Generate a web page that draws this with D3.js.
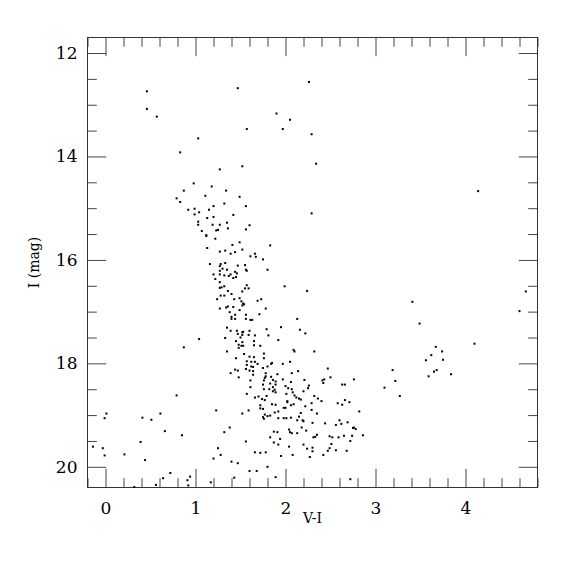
<!DOCTYPE html>
<html>
<head>
<meta charset="utf-8">
<script src="https://cdn.jsdelivr.net/npm/d3@7"></script>
<style>
  body { margin: 0; background: #fff; }
</style>
</head>
<body>
<div id="chart"></div>
<script>
// Colour-magnitude diagram: [V-I, I] per star
const stars = [
  [0.46,12.74],[0.46,13.08],[0.57,13.23],[1.03,13.65],[0.83,13.92],[0.98,14.52],[0.87,14.66],[0.79,14.81],
  [0.83,14.88],[0.92,15.03],[0.99,15.01],[0.99,15.12],[1.04,15.08],
  [2.26,12.56],[1.47,12.68],[1.90,13.17],[2.05,13.29],[1.57,13.47],[1.97,13.47],[2.29,13.57],[2.34,14.14],
  [1.27,14.25],[1.52,14.19],[1.18,14.58],[1.34,14.66],[1.11,14.76],[1.49,14.78],[1.32,14.91],[1.56,14.96],
  [1.20,14.96],[1.15,15.03],[1.13,15.19],[1.20,15.17],[1.42,15.13],[2.29,15.10],
  [1.03,15.26],[1.03,15.32],[1.19,15.32],[1.27,15.32],[1.35,15.28],[1.60,15.33],[1.25,15.42],[1.23,15.43],
  [1.36,15.39],[1.56,15.41],[1.07,15.44],[1.12,15.52],[1.12,15.54],[1.22,15.59],[1.41,15.71],[1.49,15.66],
  [1.83,15.72],[1.13,15.77],[1.52,15.80],[1.27,15.84],[1.33,15.82],[1.39,15.88],[1.44,15.85],[1.66,15.88],
  [1.67,15.94],[1.61,15.93],[1.75,15.99],[1.16,16.08],[1.28,16.08],[1.33,16.06],[1.27,16.12],[1.30,16.17],
  [1.47,16.11],[1.55,16.10],[1.56,16.19],[1.57,16.21],[1.27,16.21],[1.35,16.19],[1.44,16.23],[1.80,16.19],
  [1.20,16.28],[1.27,16.28],[1.32,16.30],[1.39,16.28],[1.37,16.31],[1.46,16.26],[1.45,16.33],[1.22,16.37],
  [1.42,16.35],[1.27,16.43],[1.99,16.51],[2.24,16.60],[1.27,16.54],[1.29,16.53],[1.32,16.51],[1.57,16.49],
  [1.55,16.55],[1.59,16.55],[1.52,16.61],[1.36,16.60],[1.28,16.69],[1.32,16.69],[1.40,16.66],[1.24,16.76],
  [1.43,16.76],[1.49,16.74],[1.51,16.80],[1.69,16.79],[1.73,16.76],[1.53,16.84],[1.52,16.88],[1.54,16.86],
  [1.27,16.94],[1.34,16.92],[1.36,16.90],[1.42,16.91],[1.49,16.97],[1.78,16.94],[1.38,17.01],[1.40,17.10],
  [1.44,17.06],[1.56,17.06],[1.71,17.05],[1.40,17.14],[1.44,17.14],[1.56,17.14],[1.61,17.16],[1.63,17.16],
  [2.13,17.14],[1.35,17.31],[1.95,17.30],[1.79,17.34],[2.16,17.35],[1.39,17.37],[1.46,17.37],[1.52,17.40],
  [1.53,17.39],[1.60,17.37],[1.47,17.43],[1.52,17.45],[1.59,17.45],[1.66,17.46],[1.81,17.46],[2.22,17.42],
  [1.33,17.51],[1.50,17.50],[1.04,17.53],[0.87,17.69],[1.45,17.57],[1.52,17.59],[1.65,17.57],[1.92,17.55],
  [1.48,17.64],[1.51,17.66],[1.53,17.66],[1.65,17.65],[1.72,17.66],[1.48,17.70],[1.35,17.77],[1.76,17.81],
  [2.09,17.74],[2.10,17.77],[2.32,17.77],[1.54,17.82],[1.60,17.87],[1.65,17.88],[1.45,17.90],[1.76,17.90],
  [1.57,17.96],[1.62,17.97],[1.66,17.97],[1.69,18.01],[1.57,18.03],[1.62,18.06],[1.64,18.07],[1.75,18.09],
  [1.80,18.06],[1.84,18.01],[1.85,17.99],[1.97,18.01],[2.05,17.97],[1.56,18.11],[1.44,18.12],[1.60,18.14],
  [1.64,18.15],[2.47,18.10],[1.39,18.19],[1.47,18.14],[1.78,18.19],[1.91,18.21],[2.07,18.19],[2.14,18.15],
  [1.64,18.22],[1.78,18.25],[2.50,18.27],[1.48,18.27],[1.77,18.28],[1.84,18.26],
  [1.61,18.33],[1.76,18.33],[1.86,18.32],[1.89,18.35],[1.83,18.39],[1.75,18.41],[1.89,18.41],[1.97,18.31],
  [2.06,18.36],[1.61,18.46],[1.76,18.50],[1.86,18.46],[1.82,18.50],[1.86,18.54],[1.88,18.51],[2.00,18.44],
  [2.03,18.48],[2.07,18.50],[2.08,18.56],[2.10,18.62],[1.57,18.59],[1.66,18.66],[1.70,18.64],[1.79,18.63],
  [1.89,18.56],[2.01,18.59],[2.12,18.66],[2.15,18.68],[1.74,18.69],[1.72,18.81],[1.77,18.71],[2.02,18.73],
  [2.02,18.75],[2.09,18.79],[1.72,18.87],[1.75,18.88],[1.85,18.79],[1.89,18.80],[1.98,18.86],[2.00,18.86],
  [2.06,18.81],[1.59,18.91],[1.52,18.97],[1.77,18.99],[1.83,19.01],[1.80,19.02],[1.88,18.95],[1.92,18.93],
  [1.92,19.06],[1.98,19.06],[2.01,19.06],[2.06,19.05],[2.15,19.03],[1.75,19.04],[1.76,19.07],[2.13,19.10],
  [1.38,19.24],[1.87,19.32],[1.91,19.33],[2.04,19.28],[2.05,19.33],[2.07,19.35],[2.13,19.35],[1.83,19.43],
  [1.94,19.46],[1.56,19.51],[1.87,19.53],[1.92,19.57],[2.04,19.61],[1.66,19.72],[1.72,19.73],[1.78,19.72],
  [1.95,19.79],[2.08,19.77],[1.40,19.90],[1.47,19.93],[1.80,20.00],[1.60,20.08],[1.68,20.08],
  [2.21,18.32],[2.41,18.33],[2.43,18.31],[2.42,18.38],[2.76,18.31],[2.63,18.41],[2.66,18.41],[2.26,18.43],
  [2.25,18.48],[2.20,18.54],[2.32,18.63],[2.36,18.68],[2.17,18.70],[2.40,18.73],[2.29,18.77],[2.58,18.77],
  [2.63,18.80],[2.66,18.71],[2.71,18.75],[2.22,18.83],[2.29,18.90],[2.35,18.97],[2.82,18.93],[2.17,18.96],
  [2.60,19.10],[2.69,19.14],[2.19,19.10],[2.20,19.12],[2.30,19.15],[2.44,19.16],[2.56,19.19],[2.62,19.17],
  [2.75,19.25],[2.76,19.24],[2.78,19.27],[2.18,19.24],[2.23,19.30],[2.86,19.39],[2.35,19.38],[2.33,19.42],
  [2.31,19.43],[2.49,19.41],[2.52,19.43],[2.59,19.43],[2.65,19.40],[2.74,19.40],[2.72,19.50],[2.20,19.57],
  [2.51,19.56],[2.24,19.65],[2.30,19.63],[2.49,19.64],[2.30,19.70],[2.47,19.69],[2.56,19.68],[2.68,19.69],
  [2.42,19.77],[2.27,19.81],
  [1.23,18.91],[1.32,19.33],[1.25,19.64],[1.28,19.77],[1.20,19.84],[1.17,20.30],[1.43,20.21],[1.89,20.20],
  [2.72,20.24],
  [0.79,18.62],[0.01,18.97],[-0.01,19.06],[0.41,19.05],[0.51,19.09],[0.61,18.97],[0.66,19.31],[0.85,19.39],
  [0.39,19.52],[-0.14,19.61],[-0.03,19.64],[-0.01,19.78],[0.21,19.76],[0.44,19.87],[0.32,20.39],[0.56,20.35],
  [0.64,20.22],[0.72,20.12],[0.91,20.26],[0.94,20.19],[0.92,20.36],
  [3.41,16.81],[3.49,17.23],[4.60,16.99],[4.67,16.61],[4.10,17.62],[3.67,17.68],[3.74,17.77],[3.62,17.84],
  [3.56,17.94],[3.75,17.93],[3.19,18.13],[3.68,18.13],[3.65,18.16],[3.59,18.25],[3.84,18.21],[3.22,18.34],
  [3.10,18.47],[3.27,18.63],
  [4.14,14.67]
];

const xMajorTicks = [0, 1, 2, 3, 4];
const yMajorTicks = [12, 14, 16, 18, 20];
const xTitle = 'V-I';
const yTitle = 'I (mag)';

const width = 575, height = 575;
const margin = { top: 37.5, left: 87.5 };
const innerW = 450, innerH = 450;

const svg = d3.select('#chart')
  .append('svg')
  .attr('width', width)
  .attr('height', height);

const g = svg.append('g')
  .attr('transform', `translate(${margin.left},${margin.top})`);

const x = d3.scaleLinear().domain([-0.2, 4.8]).range([0, innerW]);
const y = d3.scaleLinear().domain([11.7, 20.4]).range([0, innerH]);

// minor ticks: every 0.2 in colour, every 0.5 in magnitude
const xMinor = d3.range(-0.2, 4.81, 0.2).filter(v => Math.abs(v - Math.round(v)) > 0.01);
const yMinor = d3.range(12, 20.41, 0.5).filter(v => Math.abs(v / 2 - Math.round(v / 2)) > 0.01);

const major = 18.7, minor = 9.3;
const font = "'DejaVu Serif', 'Liberation Serif', serif";

function styleAxis(sel) {
  sel.select('.domain').remove();
  sel.selectAll('.tick line').attr('stroke', '#444').attr('stroke-width', 1);
  sel.selectAll('.tick text')
    .attr('fill', '#000')
    .style('font-family', font)
    .style('font-size', '17px');
}

// bottom
g.append('g').attr('transform', `translate(0,${innerH})`)
  .call(d3.axisBottom(x).tickValues(xMajorTicks).tickSize(-major).tickPadding(14).tickFormat(d3.format('d')))
  .call(styleAxis);
g.append('g').attr('transform', `translate(0,${innerH})`)
  .call(d3.axisBottom(x).tickValues(xMinor).tickSize(-minor).tickFormat(''))
  .call(styleAxis);
// top
g.append('g')
  .call(d3.axisTop(x).tickValues(xMajorTicks).tickSize(-major).tickFormat(''))
  .call(styleAxis);
g.append('g')
  .call(d3.axisTop(x).tickValues(xMinor).tickSize(-minor).tickFormat(''))
  .call(styleAxis);
// left
g.append('g')
  .call(d3.axisLeft(y).tickValues(yMajorTicks).tickSize(-major).tickPadding(10).tickFormat(d3.format('d')))
  .call(styleAxis);
g.append('g')
  .call(d3.axisLeft(y).tickValues(yMinor).tickSize(-minor).tickFormat(''))
  .call(styleAxis);
// right
g.append('g').attr('transform', `translate(${innerW},0)`)
  .call(d3.axisRight(y).tickValues(yMajorTicks).tickSize(-major).tickFormat(''))
  .call(styleAxis);
g.append('g').attr('transform', `translate(${innerW},0)`)
  .call(d3.axisRight(y).tickValues(yMinor).tickSize(-minor).tickFormat(''))
  .call(styleAxis);

// frame
g.append('rect')
  .attr('width', innerW)
  .attr('height', innerH)
  .attr('fill', 'none')
  .attr('stroke', '#333')
  .attr('stroke-width', 1);

// stars
g.selectAll('.star')
  .data(stars)
  .enter()
  .append('rect')
  .attr('class', 'star')
  .attr('x', d => x(d[0]) - 1)
  .attr('y', d => y(d[1]) - 1)
  .attr('width', 2)
  .attr('height', 2)
  .attr('fill', '#000');

// axis titles
svg.append('text')
  .attr('x', margin.left + innerW / 2)
  .attr('y', 522.5)
  .attr('text-anchor', 'middle')
  .style('font-family', font)
  .style('font-size', '14px')
  .text(xTitle);

svg.append('text')
  .attr('transform', `translate(38.5,${margin.top + innerH / 2}) rotate(-90)`)
  .attr('text-anchor', 'middle')
  .style('font-family', font)
  .style('font-size', '14px')
  .text(yTitle);
</script>
</body>
</html>
